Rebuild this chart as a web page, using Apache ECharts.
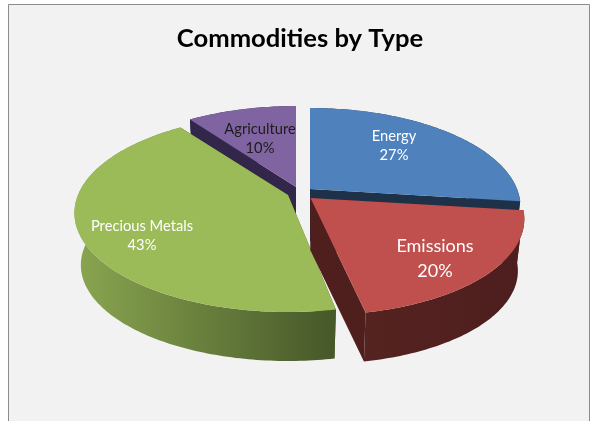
<!DOCTYPE html>
<html>
<head>
<meta charset="utf-8">
<style>html,body{margin:0;padding:0;background:#fff;overflow:hidden}#c{width:592px;height:421px}</style>
<script src="https://cdn.jsdelivr.net/npm/echarts@6/dist/echarts.min.js"></script>
</head>
<body>
<div id="c"></div>
<script>
// Data, clockwise from 12 o'clock
const categories = ['Energy', 'Emissions', 'Precious Metals', 'Agriculture'];
const percents = [27, 20, 43, 10];

// Layout and style, one entry per slice
const apexes = [[310, 189], [310.5, 198], [288, 195], [296, 187]];
const radii = [207, 209, 210, 207];
const shears = [0, 34, 0, 0];
const labelOffsets = [[84, -43], [124.5, 61], [-146, 41], [-36, -48]];
const labelSizes = [14.7, 18, 14.7, 14.7];
const labelLines = [19.5, 25, 19.5, 19.5];
const labelColors = ['#fff', '#fff', '#fff', '#1c1c1c'];
const topColors = ['#4f81bd', '#c0504d', '#9bbb59', '#8064a2'];
const cutColors = ['#1d3148', '#4f1f1e', '#4a5a2a', '#32264a'];
const wallStops = [['#1d3148', '#1d3148'], ['#552320', '#4d1e1e'], ['#8aa650', '#465729'], ['#32264a', '#32264a']];
const drawOrder = [3, 0, 2, 1];

// Perspective projection of the tilted disc
const TILT = 95.7, K = 0.182, DEPTH = 52.5, BOTTOM_SCALE = 0.97;
function project(deg, idx) {
  const t = deg * Math.PI / 180, u = Math.sin(t), v = Math.cos(t), s = 1 / (1 + K * v);
  return [radii[idx] * u * s + shears[idx] * (s - 1), -TILT * v * s];
}
function upperPt(apex, p) { return [apex[0] + p[0], apex[1] + p[1]]; }
function lowerPt(apex, p) { return [apex[0] + p[0] * BOTTOM_SCALE, apex[1] + p[1] * BOTTOM_SCALE + DEPTH]; }

const total = percents.reduce((a, b) => a + b, 0);
const startAngles = [];
percents.reduce((acc, v, i) => { startAngles[i] = acc; return acc + v / total * 360; }, 0);

function renderItem(params, api) {
  const idx = drawOrder[params.dataIndex];
  const value = api.value(1);
  const a0 = startAngles[idx], a1 = a0 + value / total * 360;
  const apex = apexes[idx];
  const arc = [];
  const n = Math.max(8, Math.round(a1 - a0));
  for (let i = 0; i <= n; i++) arc.push(project(a0 + (a1 - a0) * i / n, idx));
  const first = arc[0], last = arc[arc.length - 1];
  const o = [0, 0];
  const poly = (pts, style) => ({ type: 'polygon', shape: { points: pts }, style: style });
  const cutA = [upperPt(apex, o), upperPt(apex, first), lowerPt(apex, first), lowerPt(apex, o)];
  const cutB = [upperPt(apex, o), upperPt(apex, last), lowerPt(apex, last), lowerPt(apex, o)];
  const wall = arc.map(p => upperPt(apex, p)).concat(arc.slice().reverse().map(p => lowerPt(apex, p)));
  const face = [upperPt(apex, o)].concat(arc.map(p => upperPt(apex, p)));
  const off = labelOffsets[idx];
  return {
    type: 'group',
    children: [
      poly(cutA, { fill: cutColors[idx] }),
      poly(cutB, { fill: cutColors[idx] }),
      poly(wall, {
        fill: new echarts.graphic.LinearGradient(0, 0, 1, 0, [
          { offset: 0, color: wallStops[idx][0] },
          { offset: 1, color: wallStops[idx][1] }
        ])
      }),
      poly(face, { fill: topColors[idx] }),
      {
        type: 'text',
        style: {
          x: apex[0] + off[0], y: apex[1] + off[1],
          text: categories[idx] + '\n' + value + '%',
          fill: labelColors[idx],
          font: labelSizes[idx] + 'px Lato',
          lineHeight: labelLines[idx],
          align: 'center', verticalAlign: 'middle'
        }
      }
    ]
  };
}

const chart = echarts.init(document.getElementById('c'), null, { renderer: 'canvas' });
chart.setOption({
  animation: false,
  backgroundColor: '#ffffff',
  title: {
    text: 'Commodities by Type',
    left: 295, top: 21, textAlign: 'center',
    textStyle: { fontFamily: 'Lato', fontWeight: 'bold', fontSize: 25.6, color: '#000' }
  },
  graphic: [{
    type: 'rect', z: -1,
    shape: { x: 8.5, y: 4.5, width: 581, height: 430 },
    style: { fill: '#f2f2f2', stroke: '#8c8c8c', lineWidth: 1 }
  }],
  series: [{
    type: 'custom',
    coordinateSystem: 'none',
    renderItem: renderItem,
    data: drawOrder.map(i => [categories[i], percents[i]]),
    dimensions: ['name', 'value'],
    encode: { itemName: 0, value: 1 }
  }]
});
</script>
</body>
</html>
